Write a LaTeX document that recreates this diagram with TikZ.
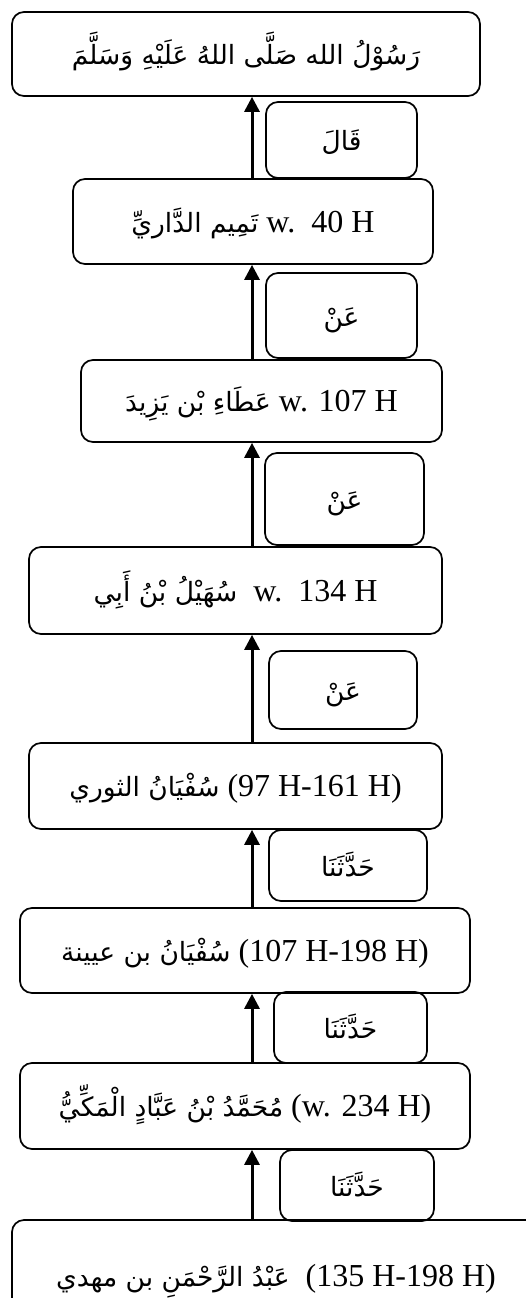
\documentclass[tikz,border=0pt]{standalone}
\usepackage{fontspec}
\setmainfont{Liberation Serif}
\newfontfamily\arabicfont[Script=Arabic]{DejaVu Sans}
\TeXXeTstate=1
\usetikzlibrary{arrows.meta}

\newcommand{\arab}[1]{{\arabicfont\fontsize{26.5}{32}\selectfont\beginR #1\endR}}

\begin{document}
\begin{tikzpicture}[x=1pt,y=-1pt,
    narrator/.style={draw, line width=1.7pt, rounded corners=12pt, inner sep=0pt,
        text height=21pt, text depth=0pt, font=\fontsize{32}{38}\selectfont},
    link/.style={line width=3pt, -{Triangle[length=15pt,width=15pt]}}]
    \useasboundingbox (0,0) rectangle (526,1298);
    \clip (0,0) rectangle (526,1298);
    \coordinate (spine) at (252,0);
    \node[narrator, minimum width=468pt, minimum height=84pt] (rasul) at (246,54)
        {\arab{رَسُوْلُ الله صَلَّى اللهُ عَلَيْهِ وَسَلَّمَ}};
    \node[narrator, minimum width=151pt, minimum height=76pt] (qala) at (341.5,140)
        {\arab{قَالَ}};
    \node[narrator, minimum width=360pt, minimum height=85pt] (tamim) at (253,221.5)
        {\arab{تَمِيم الدَّاريِّ} w.\ \ 40 H};
    \node[narrator, minimum width=151pt, minimum height=85pt] (an1) at (341.5,315.5)
        {\arab{عَنْ}};
    \node[narrator, minimum width=361pt, minimum height=82pt] (atha) at (261.5,401)
        {\arab{عَطَاءِ بْن يَزِيدَ} w. 107 H};
    \node[narrator, minimum width=159pt, minimum height=92pt] (an2) at (344.5,499)
        {\arab{عَنْ}};
    \node[narrator, minimum width=413pt, minimum height=87pt] (suhail) at (235.5,590.5)
        {\arab{سُهَيْلُ بْنُ أَبِي}\ \ w.\ \ 134 H};
    \node[narrator, minimum width=148pt, minimum height=78pt] (an3) at (343,690)
        {\arab{عَنْ}};
    \node[narrator, minimum width=413pt, minimum height=86pt] (tsauri) at (235.5,786)
        {\arab{سُفْيَانُ الثوري} (97 H-161 H)};
    \node[narrator, minimum width=158pt, minimum height=71pt] (hd1) at (348,865.5)
        {\arab{حَدَّثَنَا}};
    \node[narrator, minimum width=450pt, minimum height=85pt] (uyainah) at (245,950.5)
        {\arab{سُفْيَانُ بن عيينة} (107 H-198 H)};
    \node[narrator, minimum width=153pt, minimum height=71pt] (hd2) at (350.5,1027.5)
        {\arab{حَدَّثَنَا}};
    \node[narrator, minimum width=450pt, minimum height=86pt] (abbad) at (245,1106)
        {\arab{مُحَمَّدُ بْنُ عَبَّادٍ الْمَكِّيُّ} (w. 234 H)};
    \node[narrator, minimum width=154pt, minimum height=71pt] (hd3) at (357,1185.5)
        {\arab{حَدَّثَنَا}};
    \node[narrator, minimum width=528pt, minimum height=112pt] (mahdi) at (276,1276)
        {\arab{عَبْدُ الرَّحْمَنِ بن مهدي}\ \ (135 H-198 H)};
    \draw[link] (tamim.north -| spine) -- (rasul.south -| spine);
    \draw[link] (atha.north -| spine) -- (tamim.south -| spine);
    \draw[link] (suhail.north -| spine) -- (atha.south -| spine);
    \draw[link] (tsauri.north -| spine) -- (suhail.south -| spine);
    \draw[link] (uyainah.north -| spine) -- (tsauri.south -| spine);
    \draw[link] (abbad.north -| spine) -- (uyainah.south -| spine);
    \draw[link] (mahdi.north -| spine) -- (abbad.south -| spine);
\end{tikzpicture}
\end{document}
